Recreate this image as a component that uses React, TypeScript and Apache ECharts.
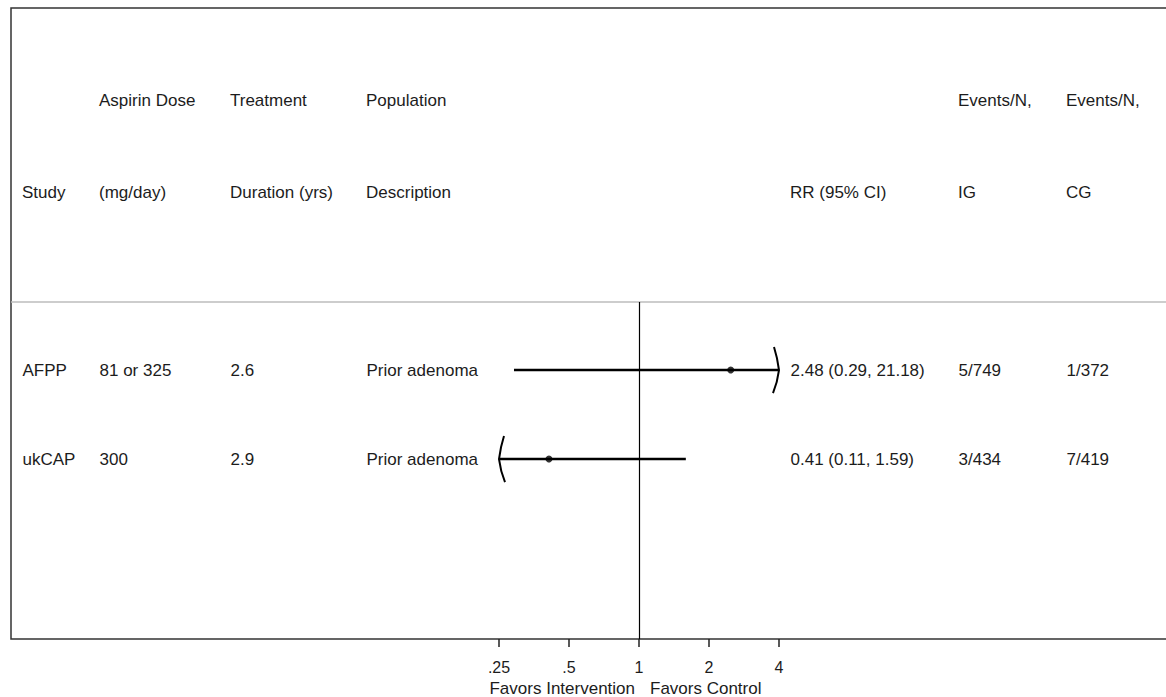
import React, { useEffect, useRef } from "react";
import * as echarts from "echarts";

// ---- data ----
const studies = ["AFPP", "ukCAP"];
const doses = ["81 or 325", "300"];
const durations = ["2.6", "2.9"];
const populations = ["Prior adenoma", "Prior adenoma"];
const rr = [2.48, 0.41];
const ciLower = [0.29, 0.11];
const ciUpper = [21.18, 1.59];
const eventsIG = ["5/749", "3/434"];
const eventsCG = ["1/372", "7/419"];
const axisTicks = [0.25, 0.5, 1, 2, 4];
const tickLabels = [".25", ".5", "1", "2", "4"];
const headerRow1 = ["", "Aspirin Dose", "Treatment", "Population", "", "Events/N,", "Events/N,"];
const headerRow2 = ["Study", "(mg/day)", "Duration (yrs)", "Description", "RR (95% CI)", "IG", "CG"];
const favorsLeft = "Favors Intervention";
const favorsRight = "Favors Control";

// ---- layout ----
const W = 1166;
const H = 697;
const AXIS_MIN = 0.25;
const AXIS_MAX = 4;
const colX = [22, 99, 230, 366, 790, 958, 1066];
const FONT = 'Arial, "Liberation Sans", sans-serif';
const TXT = "#1c1c1c";

const rrText = rr.map(
  (v, i) => `${v.toFixed(2)} (${ciLower[i].toFixed(2)}, ${ciUpper[i].toFixed(2)})`
);

export default function App() {
  const ref = useRef<HTMLDivElement>(null);
  useEffect(() => {
    if (!ref.current) return;
    const chart = echarts.init(ref.current, undefined, { renderer: "svg" });

    const yAxisBase = {
      type: "value",
      inverse: true,
      min: -0.764,
      max: 3.022,
      show: false,
    };

    const textCols = [studies, doses, durations, populations, rrText, eventsIG, eventsCG];

    const textSeries = textCols.map((vals, c) => ({
      type: "scatter",
      xAxisIndex: 1,
      yAxisIndex: 1,
      symbolSize: 1,
      itemStyle: { color: "rgba(0,0,0,0)" },
      silent: true,
      data: vals.map((v, i) => ({ value: [colX[c], i], name: v })),
      label: {
        show: true,
        position: "right",
        distance: 0,
        formatter: (p: any) => p.name,
        color: TXT,
        opacity: 1,
        fontSize: 17,
        fontFamily: FONT,
      },
    }));

    const headerGraphics: any[] = [];
    [headerRow1, headerRow2].forEach((row, r) => {
      row.forEach((t, c) => {
        if (!t) return;
        headerGraphics.push({
          type: "text",
          x: colX[c],
          y: r === 0 ? 100 : 192,
          style: {
            text: t,
            fill: TXT,
            fontSize: 17,
            fontFamily: FONT,
            align: "left",
            verticalAlign: "middle",
          },
        });
      });
    });

    const arrowPath = (x: number, y: number, dir: number) => {
      // dir = 1 right ")", dir = -1 left "("
      const d = dir;
      return `M ${x - 5 * d} ${y - 23} Q ${x - 1.5 * d} ${y - 12} ${x} ${y} Q ${x - 1.5 * d} ${y + 12} ${x - 6 * d} ${y + 23}`;
    };

    const option: any = {
      animation: false,
      grid: [
        { left: 499, width: 280, top: 302, bottom: H - 639 },
        { left: 0, right: 0, top: 302, bottom: H - 639 },
      ],
      xAxis: [
        {
          type: "log",
          logBase: 2,
          min: AXIS_MIN,
          max: AXIS_MAX,
          splitNumber: 4,
          gridIndex: 0,
          position: "bottom",
          axisLine: { show: false, onZero: false },
          axisTick: { show: true, length: 8, lineStyle: { color: "#222", width: 1.5 } },
          splitLine: { show: false },
          minorTick: { show: false },
          axisLabel: {
            margin: 20,
            color: TXT,
            fontSize: 16,
            fontFamily: FONT,
            formatter: (v: number) => {
              const k = axisTicks.findIndex((t) => Math.abs(t - v) < 1e-9);
              return k >= 0 ? tickLabels[k] : "";
            },
          },
        },
        { type: "value", min: 0, max: W, gridIndex: 1, show: false },
      ],
      yAxis: [
        { ...yAxisBase, gridIndex: 0 },
        { ...yAxisBase, gridIndex: 1 },
      ],
      graphic: [
        {
          type: "rect",
          shape: { x: 11, y: 8, width: 1200, height: 631 },
          style: { fill: "none", stroke: "#333", lineWidth: 1.5 },
          silent: true,
        },
        {
          type: "line",
          shape: { x1: 11, y1: 302, x2: W, y2: 302 },
          style: { stroke: "#bdbdbd", lineWidth: 1.5 },
          silent: true,
        },
        ...headerGraphics,
        {
          type: "text",
          x: 635,
          y: 688,
          style: { text: favorsLeft, fill: TXT, fontSize: 17, fontFamily: FONT, align: "right", verticalAlign: "middle" },
        },
        {
          type: "text",
          x: 650,
          y: 688,
          style: { text: favorsRight, fill: TXT, fontSize: 17, fontFamily: FONT, align: "left", verticalAlign: "middle" },
        },
      ],
      series: [
        {
          type: "custom",
          xAxisIndex: 0,
          yAxisIndex: 0,
          clip: false,
          silent: true,
          encode: { x: [0, 1], y: 2 },
          data: ciLower.map((lo, i) => [lo, ciUpper[i], i]),
          renderItem: (params: any, api: any) => {
            const loRaw = api.value(0);
            const hiRaw = api.value(1);
            const row = api.value(2);
            const lo = Math.max(loRaw, AXIS_MIN);
            const hi = Math.min(hiRaw, AXIS_MAX);
            const p1 = api.coord([lo, row]);
            const p2 = api.coord([hi, row]);
            const children: any[] = [
              {
                type: "line",
                shape: { x1: p1[0], y1: p1[1], x2: p2[0], y2: p2[1] },
                style: { stroke: "#000", lineWidth: 2.5 },
              },
            ];
            if (hiRaw > AXIS_MAX) {
              children.push({
                type: "path",
                shape: { pathData: arrowPath(p2[0], p2[1], 1) },
                style: { stroke: "#000", lineWidth: 2, fill: "none" },
              });
            }
            if (loRaw < AXIS_MIN) {
              children.push({
                type: "path",
                shape: { pathData: arrowPath(p1[0], p1[1], -1) },
                style: { stroke: "#000", lineWidth: 2, fill: "none" },
              });
            }
            return { type: "group", children };
          },
        },
        {
          type: "scatter",
          xAxisIndex: 0,
          yAxisIndex: 0,
          symbol: "circle",
          symbolSize: 7,
          itemStyle: { color: "#000" },
          silent: true,
          data: rr.map((v, i) => [v, i]),
          markLine: {
            silent: true,
            symbol: "none",
            label: { show: false },
            lineStyle: { color: "#000", width: 1.2, type: "solid" },
            data: [{ xAxis: 1 }],
          },
        },
        ...textSeries,
      ],
    };

    chart.setOption(option);
    return () => chart.dispose();
  }, []);

  return (
    <div
      ref={ref}
      style={{ position: "fixed", left: 0, top: 0, width: W, height: H, background: "#fff" }}
    />
  );
}
